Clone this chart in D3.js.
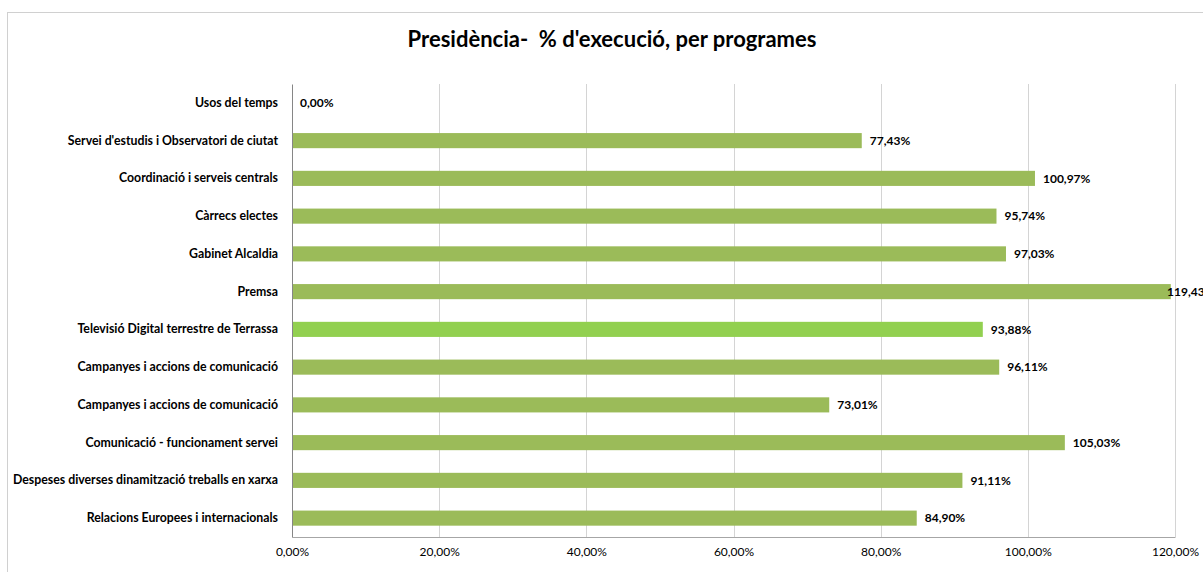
<!DOCTYPE html>
<html><head><meta charset="utf-8">
<script src="https://cdn.jsdelivr.net/npm/d3@7"></script>
<style>
html,body{margin:0;padding:0;background:#fff;overflow:hidden}
svg{display:block;font-family:Lato,"Open Sans",sans-serif}
</style></head><body>
<svg id="chart" width="1203" height="572"></svg>
<script>
const title = "Presidència-  % d'execució, per programes";
const categories = [
  "Usos del temps",
  "Servei d'estudis i Observatori de ciutat",
  "Coordinació i serveis centrals",
  "Càrrecs electes",
  "Gabinet Alcaldia",
  "Premsa",
  "Televisió Digital terrestre de Terrassa",
  "Campanyes i accions de comunicació",
  "Campanyes i accions de comunicació",
  "Comunicació - funcionament servei",
  "Despeses diverses dinamització treballs en xarxa",
  "Relacions Europees i internacionals"
];
const values = [0.00, 77.43, 100.97, 95.74, 97.03, 119.43, 93.88, 96.11, 73.01, 105.03, 91.11, 84.90];
const highlight = [false,false,false,false,false,false,true,false,false,false,false,false];
const tickValues = [0, 20, 40, 60, 80, 100, 120];

const svg = d3.select("#chart");
const m = {left: 292, right: 1175, top: 84, bottom: 537};

// chart border
svg.append("rect").attr("x", 7.5).attr("y", 12.5).attr("width", 1250).attr("height", 620)
  .attr("fill", "#fff").attr("stroke", "#d0d0d0").attr("stroke-width", 1);

const fmt = v => v.toFixed(2).replace(".", ",") + "%";

const x = d3.scaleLinear().domain([0, 120]).range([m.left, m.right]);
const y = d3.scaleBand().domain(d3.range(categories.length)).range([m.top, m.bottom]).paddingInner(0.6).paddingOuter(0.3);

// gridlines
svg.append("g").selectAll("line").data(tickValues.slice(1)).join("line")
  .attr("x1", d => Math.round(x(d)) + 0.5).attr("x2", d => Math.round(x(d)) + 0.5)
  .attr("y1", m.top).attr("y2", m.bottom)
  .attr("stroke", "#d4d4d4").attr("stroke-width", 1);

// x axis
const xAxis = d3.axisBottom(x).tickValues(tickValues).tickSize(0).tickPadding(10)
  .tickFormat(d => d.toFixed(2).replace(".", ",") + "%");
const gx = svg.append("g").attr("transform", `translate(0,${m.bottom})`).call(xAxis);
gx.select(".domain").attr("stroke", "#a6a6a6");
gx.selectAll("text").attr("font-size", 12).attr("fill", "#000").attr("font-family", "Lato,sans-serif");

// bars
svg.append("g").selectAll("rect").data(values).join("rect")
  .attr("x", x(0)).attr("y", (d, i) => y(i))
  .attr("width", d => x(d) - x(0)).attr("height", y.bandwidth())
  .attr("fill", (d, i) => highlight[i] ? "#92D050" : "#9BBB59");

// y axis
const yAxis = d3.axisLeft(y).tickSize(0).tickPadding(14).tickFormat(i => categories[i]);
const gy = svg.append("g").attr("transform", `translate(${m.left},0)`).call(yAxis);
gy.select(".domain").attr("stroke", "#868686");
gy.selectAll("text").attr("font-size", 12.3).attr("font-weight", "bold").attr("fill", "#000").attr("font-family", "Lato,sans-serif");

// value labels (labels that would leave the plot are pulled back, as in the original)
svg.append("g").selectAll("text").data(values).join("text")
  .attr("x", d => Math.min(x(d) + 8, m.right - 8)).attr("y", (d, i) => y(i) + y.bandwidth() / 2)
  .attr("dy", "0.35em").attr("font-size", 12).attr("font-weight", "bold")
  .attr("fill", "#000").text(d => fmt(d));

// title
svg.append("text").attr("x", 612).attr("y", 47).attr("text-anchor", "middle")
  .style("white-space", "pre").attr("xml:space", "preserve")
  .attr("font-size", 22).attr("font-weight", "bold").attr("fill", "#000").text(title);
</script>
</body></html>
